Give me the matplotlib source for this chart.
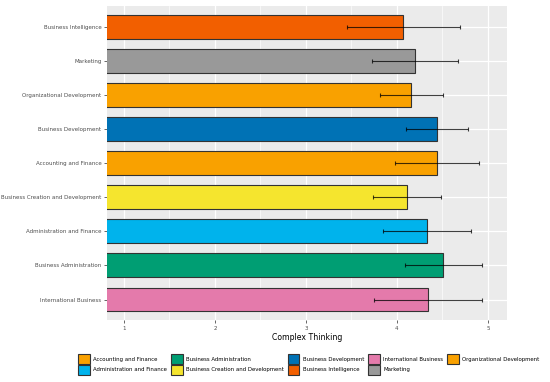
import matplotlib.pyplot as plt
import matplotlib.patches as patches
from matplotlib.ticker import MultipleLocator

# data (top to bottom as drawn)
programs = ['Business Intelligence', 'Marketing', 'Organizational Development',
            'Business Development', 'Accounting and Finance',
            'Business Creation and Development', 'Administration and Finance',
            'Business Administration', 'International Business']
means = [4.07, 4.20, 4.16, 4.44, 4.44, 4.11, 4.33, 4.51, 4.34]
sds = [0.62, 0.47, 0.35, 0.34, 0.46, 0.37, 0.48, 0.42, 0.59]

colors = {
    'Accounting and Finance': '#F9A100',
    'Administration and Finance': '#00B3EC',
    'Business Administration': '#009E73',
    'Business Creation and Development': '#F5E52E',
    'Business Development': '#0072B5',
    'Business Intelligence': '#F25F00',
    'International Business': '#E47AAB',
    'Marketing': '#999999',
    'Organizational Development': '#F9A100',
}

fig = plt.figure(figsize=(5.5, 3.82), dpi=100)
ax = fig.add_axes([0.1945, 0.1623, 0.7273, 0.8217])
ax.set_facecolor('#EBEBEB')

ypos = list(range(len(programs)))[::-1]
ax.barh(ypos, means, height=0.7, color=[colors[p] for p in programs],
        edgecolor='#333333', linewidth=0.8, zorder=3)
ax.errorbar(means, ypos, xerr=sds, fmt='none', ecolor='black', alpha=0.75,
            elinewidth=0.8, capsize=1.5, capthick=0.8, zorder=4)

ax.set_xlim(0.813, 5.21)
ax.set_ylim(-0.6, len(programs) - 0.4)
ax.xaxis.set_major_locator(MultipleLocator(1))
ax.xaxis.set_minor_locator(MultipleLocator(0.5))
ax.set_yticks(ypos)
ax.set_yticklabels(programs)
ax.grid(which='major', color='white', linewidth=0.9, zorder=0)
ax.grid(which='minor', axis='x', color='white', linewidth=0.45, zorder=0)
ax.tick_params(axis='both', which='major', labelsize=4.0, colors='#4D4D4D',
               length=2, width=0.6, pad=2)
ax.tick_params(axis='x', which='minor', length=0)
for s in ax.spines.values():
    s.set_visible(False)
ax.set_xlabel('Complex Thinking', fontsize=5.6, labelpad=2)

legend_order = sorted(colors.keys())
handles = [patches.Patch(facecolor=colors[k], edgecolor='#333333', linewidth=0.8,
                         label=k) for k in legend_order]
fig.legend(handles=handles, loc='center', bbox_to_anchor=(0.561, 0.046), ncol=5,
           frameon=False, fontsize=3.9, handlelength=2.2, handleheight=2.3,
           handletextpad=0.6, columnspacing=0.7, labelspacing=0.25,
           borderaxespad=0.0, borderpad=0.0)

fig.savefig('out.png', dpi=100)
